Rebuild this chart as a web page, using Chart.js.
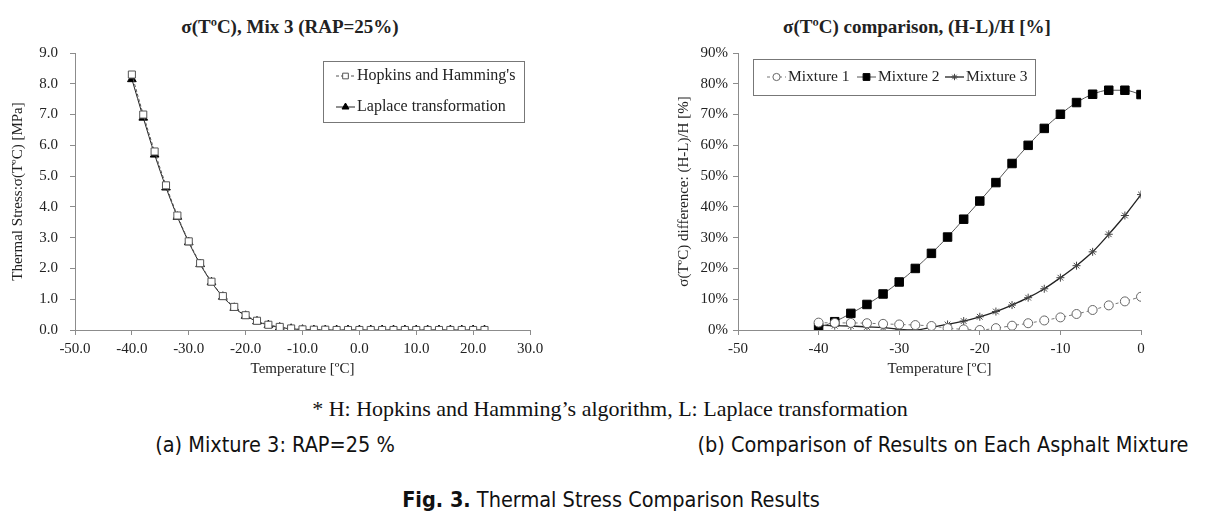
<!DOCTYPE html>
<html>
<head>
  <title>Thermal Stress Comparison Results</title>
  <script src="https://cdn.jsdelivr.net/npm/chart.js"></script>
  <style>
    body {
      margin: 0;
      width: 1225px;
      height: 513px;
      background: #fff;
      position: relative;
      overflow: hidden;
    }
    .box { position: absolute; }
    #leftBox { left: 0; top: 0; width: 560px; height: 385px; }
    #rightBox { left: 620px; top: 0; width: 605px; height: 385px; }
    .title {
      position: absolute;
      top: 16px;
      font-family: "Liberation Serif", serif;
      font-weight: bold;
      font-size: 19px;
      color: #222;
      white-space: nowrap;
      transform: translateX(-50%);
    }
    .cap {
      position: absolute;
      white-space: nowrap;
      color: #111;
      transform: translateX(-50%);
    }
    .serif { font-family: "Liberation Serif", serif; font-size: 22px; }
    .sans { font-family: "Liberation Sans Narrow", "DejaVu Sans Condensed", sans-serif; font-size: 21.5px; }
  </style>
</head>
<body>
  <div class="title" style="left:290px">σ(TºC), Mix 3 (RAP=25%)</div>
  <div class="title" style="left:917px">σ(TºC) comparison, (H-L)/H [%]</div>
  <div class="box" id="leftBox"><canvas id="leftChart" width="560" height="385"></canvas></div>
  <div class="box" id="rightBox"><canvas id="rightChart" width="605" height="385"></canvas></div>

  <div class="cap serif" style="left:610px; top:396px">* H: Hopkins and Hamming’s algorithm, L: Laplace transformation</div>
  <div class="cap sans" style="left:275px; top:432px">(a) Mixture 3: RAP=25 %</div>
  <div class="cap sans" style="left:943px; top:432px">(b) Comparison of Results on Each Asphalt Mixture</div>
  <div class="cap sans" style="left:611px; top:487px"><b>Fig. 3.</b> Thermal Stress Comparison Results</div>

  <script>
    // (a) Mix 3, thermal stress [MPa]
    const tempA = [-40, -38, -36, -34, -32, -30, -28, -26, -24, -22, -20, -18, -16, -14, -12, -10,
                   -8, -6, -4, -2, 0, 2, 4, 6, 8, 10, 12, 14, 16, 18, 20, 22];
    const hopkins = [8.30, 7.00, 5.80, 4.70, 3.72, 2.88, 2.17, 1.57, 1.10, 0.75, 0.48, 0.30, 0.17, 0.10, 0.05, 0.02,
                     0.01, 0.01, 0.00, 0.00, 0.00, 0.00, 0.00, 0.00, 0.00, 0.00, 0.00, 0.00, 0.00, 0.00, 0.00, 0.00];
    const laplace = [8.15, 6.90, 5.70, 4.63, 3.68, 2.85, 2.14, 1.55, 1.08, 0.72, 0.46, 0.28, 0.16, 0.08, 0.04, 0.01,
                     0.00, 0.00, 0.00, 0.00, 0.00, 0.00, 0.00, 0.00, 0.00, 0.00, 0.00, 0.00, 0.00, 0.00, 0.00, 0.00];

    // (b) (H-L)/H difference [%]
    const tempB = [-40, -38, -36, -34, -32, -30, -28, -26, -24, -22, -20, -18, -16, -14, -12, -10, -8, -6, -4, -2, 0];
    const mixture1 = [2.4, 2.3, 2.3, 2.2, 2.0, 1.8, 1.6, 1.3, 0.6, 0.2, 0.0, 0.6, 1.4, 2.2, 3.1, 4.1, 5.2, 6.5, 8.0, 9.3, 10.8];
    const mixture2 = [0.8, 2.7, 5.4, 8.3, 11.7, 15.6, 20.0, 24.9, 30.2, 36.0, 41.9, 47.9, 54.1, 60.0, 65.5, 70.1, 73.9, 76.6, 77.9, 77.9, 76.5];
    const mixture3 = [1.6, 1.4, 1.3, 1.0, 0.8, 0.2, 0.0, 0.9, 1.8, 2.9, 4.3, 6.0, 8.1, 10.5, 13.4, 17.0, 20.9, 25.4, 31.1, 37.2, 44.0];

    const textColor = '#222';
    const axisColor = '#8c8c8c';
    const serif = 'Liberation Serif, serif';

    function pts(xs, ys) {
      return xs.map((x, i) => ({ x: x, y: ys[i] }));
    }

    // legend drawn as an Excel style box: line sample with marker + label
    function boxLegend(box) {
      return {
        id: 'boxLegend',
        afterDraw(chart) {
          const ctx = chart.ctx;
          ctx.save();
          ctx.strokeStyle = '#777';
          ctx.lineWidth = 1;
          ctx.strokeRect(box.x + 0.5, box.y + 0.5, box.w, box.h);
          ctx.font = box.size + 'px ' + serif;
          ctx.fillStyle = textColor;
          ctx.textBaseline = 'middle';
          chart.data.datasets.forEach((ds, i) => {
            const p = box.items[i];
            ctx.save();
            ctx.strokeStyle = ds.borderColor;
            ctx.lineWidth = ds.borderWidth;
            ctx.setLineDash(ds.borderDash || []);
            ctx.beginPath();
            ctx.moveTo(p.x, p.y);
            ctx.lineTo(p.x + 19, p.y);
            ctx.stroke();
            ctx.setLineDash([]);
            ctx.lineWidth = ds.pointBorderWidth || 1;
            ctx.strokeStyle = ds.pointBorderColor;
            ctx.fillStyle = ds.pointBackgroundColor;
            Chart.helpers.drawPoint(ctx, {
              pointStyle: ds.pointStyle,
              radius: ds.pointRadius * 0.8,
              rotation: 0,
              borderWidth: ds.pointBorderWidth || 1
            }, p.x + 9.5, p.y);
            ctx.restore();
            ctx.fillText(ds.label, p.x + 21, p.y);
          });
          ctx.restore();
        }
      };
    }

    function fixWidth(w) { return s => { s.width = w; }; }
    function fixHeight(h) { return s => { s.height = h; }; }

    function axisX(min, max, step, fmt) {
      return {
        type: 'linear',
        min: min, max: max,
        afterFit: fixHeight(55),
        border: { display: true, color: axisColor, width: 1 },
        grid: { display: true, drawOnChartArea: false, drawTicks: true, tickLength: 5, color: axisColor },
        ticks: { stepSize: step, color: textColor, font: { family: serif, size: 15 }, padding: 5,
                 maxRotation: 0, callback: fmt },
        title: { display: true, text: 'Temperature [ºC]', color: textColor,
                 font: { family: serif, size: 15 }, padding: { top: 0, bottom: 7 } }
      };
    }

    function axisY(min, max, step, fmt, w, pad, label) {
      return {
        min: min, max: max,
        afterFit: fixWidth(w),
        border: { display: true, color: axisColor, width: 1 },
        grid: { display: true, drawOnChartArea: false, drawTicks: true, tickLength: 5, color: axisColor },
        ticks: { stepSize: step, color: textColor, font: { family: serif, size: 15 }, padding: pad, callback: fmt },
        title: { display: true, text: label, color: textColor,
                 font: { family: serif, size: 15 }, padding: { top: 4, bottom: 4 } }
      };
    }

    const common = {
      responsive: false,
      animation: false,
      plugins: { legend: { display: false }, tooltip: { enabled: false } }
    };

    new Chart(document.getElementById('leftChart'), {
      type: 'line',
      data: {
        datasets: [{
          label: "Hopkins and Hamming's",
          data: pts(tempA, hopkins),
          borderColor: '#555',
          borderWidth: 1,
          borderDash: [3, 2],
          pointStyle: 'rect',
          pointRadius: 5,
          pointBorderWidth: 1,
          pointBorderColor: '#555',
          pointBackgroundColor: '#fff',
          cubicInterpolationMode: 'monotone'
        }, {
          label: 'Laplace transformation',
          data: pts(tempA, laplace),
          borderColor: '#222',
          borderWidth: 1,
          pointStyle: 'triangle',
          pointRadius: 5,
          pointBorderWidth: 1,
          pointBorderColor: '#000',
          pointBackgroundColor: '#000',
          cubicInterpolationMode: 'monotone'
        }]
      },
      options: Object.assign({}, common, {
        layout: { padding: { left: 5, top: 53, right: 30, bottom: 0 } },
        scales: {
          x: axisX(-50, 30, 10, v => v.toFixed(1)),
          y: axisY(0, 9, 1, v => v.toFixed(1), 70, 12, 'Thermal Stress:σ(TºC) [MPa]')
        }
      }),
      plugins: [boxLegend({ x: 323, y: 61, w: 201, h: 61, size: 16,
        items: [{ x: 336, y: 76 }, { x: 336, y: 107 }] })]
    });

    new Chart(document.getElementById('rightChart'), {
      type: 'line',
      data: {
        datasets: [{
          label: 'Mixture 1',
          data: pts(tempB, mixture1),
          borderColor: '#777',
          borderWidth: 1,
          borderDash: [3, 3],
          pointStyle: 'circle',
          pointRadius: 4.5,
          pointBorderWidth: 1,
          pointBorderColor: '#666',
          pointBackgroundColor: '#fff',
          cubicInterpolationMode: 'monotone'
        }, {
          label: 'Mixture 2',
          data: pts(tempB, mixture2),
          borderColor: '#555',
          borderWidth: 1,
          pointStyle: 'rect',
          pointRadius: 6,
          pointBorderWidth: 1,
          pointBorderColor: '#000',
          pointBackgroundColor: '#000',
          cubicInterpolationMode: 'monotone'
        }, {
          label: 'Mixture 3',
          data: pts(tempB, mixture3),
          borderColor: '#222',
          borderWidth: 1.3,
          pointStyle: 'star',
          pointRadius: 4,
          pointBorderWidth: 1,
          pointBorderColor: '#444',
          pointBackgroundColor: '#444',
          cubicInterpolationMode: 'monotone'
        }]
      },
      options: Object.assign({}, common, {
        layout: { padding: { left: 51, top: 53, right: 84, bottom: 0 } },
        scales: {
          x: axisX(-50, 0, 10, v => String(v)),
          y: axisY(0, 90, 10, v => v + '%', 67, 5, 'σ(TºC) difference: (H-L)/H [%]')
        }
      }),
      plugins: [boxLegend({ x: 133, y: 59, w: 282, h: 36, size: 15.5,
        items: [{ x: 147, y: 77 }, { x: 237, y: 77 }, { x: 325, y: 77 }] })]
    });
  </script>
</body>
</html>
